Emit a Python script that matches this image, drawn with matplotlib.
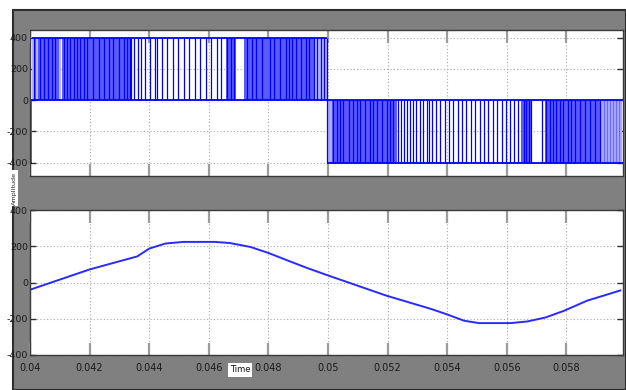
import numpy as np
import matplotlib
matplotlib.use("Agg")
import matplotlib.pyplot as plt
from matplotlib.patches import Rectangle

# ---- data (times in ms) ----
# top scope: PWM inverter output, positive half then negative half
pos_level = 400
neg_level = -400
half_switch_ms = 49.98
t_start_ms = 40.0
t_end_ms = 59.9
lead_neg_band = [40.0, 40.07]

# dense switching regions (edges closer than a pixel) -> drawn as bands
pos_dense_start = [40.07, 40.27, 41.07, 46.57, 47.17]
pos_dense_end = [40.20, 40.97, 43.35, 46.90, 49.98]
pos_light_start = [40.07, 40.20, 40.97, 49.52]
pos_light_end = [40.14, 40.27, 41.03, 49.98]
pos_edges = [40.14, 40.32, 40.46, 40.59, 40.74, 40.85, 41.13, 41.24, 41.35,
             41.46, 41.57, 41.69, 41.80, 41.91, 42.13, 42.30, 42.49, 42.64,
             42.80, 42.97, 43.14, 43.25, 43.35,
             43.40, 43.48, 43.62, 43.72, 43.85, 44.02, 44.19, 44.27, 44.42,
             44.61, 44.79, 44.97, 45.16, 45.34, 45.53, 45.71, 45.90, 46.08,
             46.26, 46.42,
             46.62, 46.73, 46.85,
             47.29, 47.46, 47.57, 47.80, 48.07, 48.18, 48.39, 48.58, 48.69,
             48.80, 48.91, 49.08, 49.25, 49.36, 49.52, 49.64, 49.75, 49.86]

neg_dense_start = [49.98, 56.48, 57.29]
neg_dense_end = [52.30, 56.85, 59.16]
neg_light_start = [49.98, 59.16]
neg_light_end = [50.12, 59.85]
neg_edges = [50.17, 50.29, 50.39, 50.52, 50.69, 50.85, 50.96, 51.08, 51.25,
             51.41, 51.52, 51.64, 51.80, 51.97, 52.08, 52.19,
             52.36, 52.46, 52.56, 52.66, 52.76, 52.86, 52.96, 53.09, 53.20,
             53.31,
             53.38, 53.50, 53.62, 53.77, 53.92, 54.07, 54.20, 54.36, 54.51,
             54.64, 54.79, 54.94, 55.09, 55.24, 55.38, 55.53, 55.68, 55.83,
             55.98, 56.11, 56.25, 56.38,
             56.58, 56.66, 56.74, 56.81, 57.19,
             57.33, 57.44, 57.55, 57.66, 57.78, 57.89, 58.06, 58.17, 58.28,
             58.45, 58.62, 58.79, 58.95, 59.12]
neg_light_edges = [59.26, 59.36, 59.46, 59.56, 59.66, 59.77]

# bottom scope: filtered output voltage
wave_t_ms = [40.0, 42.0, 43.6, 44.0, 44.54, 45.15, 46.2, 46.7, 47.4, 48.0,
             48.7, 49.3, 50.0, 51.95, 53.46, 53.96, 54.57, 55.07, 56.13,
             56.69, 57.3, 57.92, 58.7, 59.81]
wave_v = [-40, 72, 144, 187, 215, 224, 224, 218, 196, 163,
          118, 80, 39, -72, -146, -174, -211, -224, -224,
          -215, -193, -156, -100, -44]

x_ticks = [0.04, 0.042, 0.044, 0.046, 0.048, 0.05, 0.052, 0.054, 0.056, 0.058]
x_tick_labels = ["0.04", "0.042", "0.044", "0.046", "0.048", "0.05",
                 "0.052", "0.054", "0.056", "0.058"]
y_ticks = [-400, -200, 0, 200, 400]
y_tick_labels = ["-400", "-200", "0", "200", "400"]

ms = lambda v: np.asarray(v) / 1000.0

W, H = 626, 390
fig = plt.figure(figsize=(W / 100, H / 100), dpi=100, facecolor="white")
fig.add_artist(Rectangle((13 / W, 0), (W - 13) / W, 380 / H, transform=fig.transFigure,
                         facecolor="#808080", edgecolor="#2e2e2e", linewidth=1.5, zorder=0))

tick_font = ["Liberation Sans Narrow", "DejaVu Sans"]
BLUE = "#0000ff"


def style(ax, ylim, show_xlabels):
    ax.set_facecolor("white")
    ax.set_xlim(0.04, ms(t_end_ms))
    ax.set_ylim(*ylim)
    ax.set_xticks(x_ticks)
    ax.set_yticks(y_ticks)
    ax.set_yticklabels(y_tick_labels, family=tick_font, fontsize=6.8, color="#1a1a1a")
    if show_xlabels:
        ax.set_xticklabels(x_tick_labels, family=tick_font, fontsize=7, color="#1a1a1a")
    else:
        ax.set_xticklabels([])
    ax.tick_params(axis="x", direction="in", length=9, width=1.6, color="#9c9c9c",
                   top=True, bottom=True, pad=6)
    ax.tick_params(axis="y", direction="in", length=4, width=1, color="#303030",
                   left=True, right=True, pad=1.5)
    ax.grid(True, linestyle=(0, (1, 2)), color="#a8a8a8", linewidth=0.8)
    ax.set_axisbelow(True)
    for s in ax.spines.values():
        s.set_color("#3a3a3a")
        s.set_linewidth(1.0)


# ---- top: PWM ----
ax1 = fig.add_axes([30 / W, 1 - 176 / H, 593 / W, 146 / H])
style(ax1, (-485, 449), False)
ax1.fill_between(ms(lead_neg_band), 0, neg_level, color="#5c5cff", linewidth=0)
for s, e in zip(pos_dense_start, pos_dense_end):
    ax1.fill_between(ms([s, e]), 0, pos_level, color="#5a5aff", linewidth=0)
for s, e in zip(pos_light_start, pos_light_end):
    ax1.fill_between(ms([s, e]), 0, pos_level, color="#b4b4ff", linewidth=0)
for s, e in zip(neg_dense_start, neg_dense_end):
    ax1.fill_between(ms([s, e]), 0, neg_level, color="#5a5aff", linewidth=0)
for s, e in zip(neg_light_start, neg_light_end):
    ax1.fill_between(ms([s, e]), 0, neg_level, color="#a9a9ff", linewidth=0)
ax1.vlines(ms(pos_edges), 0, pos_level, color=BLUE, linewidth=0.9)
ax1.vlines(ms(neg_edges), 0, neg_level, color=BLUE, linewidth=0.9)
ax1.vlines(ms(neg_light_edges), 0, neg_level, color="#6a6aff", linewidth=0.8)
ax1.vlines(ms([half_switch_ms]), neg_level, pos_level, color=BLUE, linewidth=0.9)
ax1.hlines(0, ms(t_start_ms), ms(t_end_ms), color=BLUE, linewidth=1.3)
ax1.hlines(pos_level, ms(lead_neg_band[1]), ms(half_switch_ms), color=BLUE, linewidth=1.3)
ax1.hlines(neg_level, ms(half_switch_ms), ms(t_end_ms), color=BLUE, linewidth=1.3)
ax1.hlines(neg_level, ms(lead_neg_band[0]), ms(lead_neg_band[1]), color=BLUE, linewidth=1.3)

# ---- bottom: filtered voltage ----
ax2 = fig.add_axes([30 / W, 1 - 355 / H, 593 / W, 145 / H])
style(ax2, (-400, 400), True)
ax2.plot(ms(wave_t_ms), wave_v, color="#2a2aff", linewidth=1.4)

fig.text(14 / W, 1 - 188 / H, "Amplitude", rotation=90, fontsize=4.6, family=tick_font,
         ha="center", va="center", color="#202020",
         bbox=dict(facecolor="white", edgecolor="none", pad=0.8))
fig.text(240 / W, 1 - 370 / H, "Time", fontsize=6, family=tick_font,
         ha="center", va="center", color="#101010",
         bbox=dict(facecolor="white", edgecolor="none", pad=1.5))

fig.savefig("out.png", dpi=100, facecolor="white")
